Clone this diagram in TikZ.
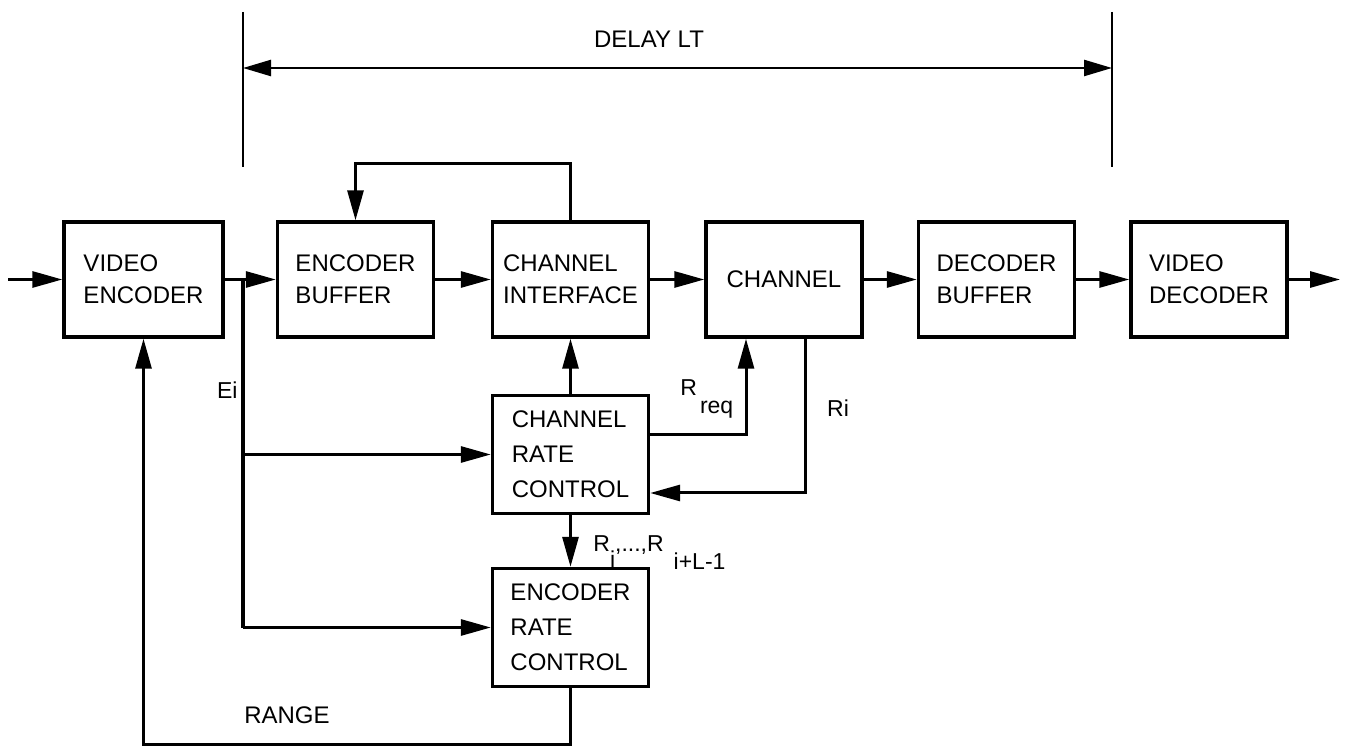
\documentclass[tikz,border=0pt]{standalone}
\usepackage{fontspec}
\setmainfont{Liberation Sans}
\usetikzlibrary{arrows.meta}
\tikzset{
  blk/.style={draw, line width=1.7pt, minimum width=78pt, minimum height=57.5pt,
    align=left, inner sep=0pt, font=\fontsize{12}{16}\selectfont},
  ctl/.style={blk, minimum height=59pt, font=\fontsize{12}{17.5}\selectfont},
  conn/.style={line width=1.5pt},
  arr/.style={conn, -{Triangle[length=15pt,width=8pt]}},
  thinline/.style={line width=1.2pt},
  lbl/.style={inner sep=0pt, font=\fontsize{11.5}{13}\selectfont},
  bigl/.style={inner sep=0pt, font=\fontsize{12}{14}\selectfont},
}
\begin{document}
\begin{tikzpicture}[x=0.5pt,y=-0.5pt]
\useasboundingbox (0,0) rectangle (1350,748);

% main chain
\node[blk, minimum width=79.5pt] (ve) at (143.5,279.5) {VIDEO\\ENCODER};
\node[blk] (eb) at (355.5,279.5) {ENCODER\\BUFFER};
\node[blk] (ci) at (570.5,279.5) {CHANNEL\\INTERFACE};
\node[blk] (ch) at (784,279.5) {CHANNEL};
\node[blk] (db) at (996.5,279.5) {DECODER\\BUFFER};
\node[blk] (vd) at (1209,279.5) {VIDEO\\DECODER};
\node[ctl] (crc) at (570.5,454.5) {CHANNEL\\RATE\\CONTROL};
\node[ctl] (erc) at (570.5,627.5) {ENCODER\\RATE\\CONTROL};

% free ends and bends
\coordinate (in) at (8,279.5);
\coordinate (out) at (1340,279.5);
\coordinate (j) at (243,279.5);
\coordinate (j1) at (243,454.5);
\coordinate (j2) at (243,627.5);
\coordinate (fb) at (355.5,164);
\coordinate (rq) at (746,435);
\coordinate (rr) at (805,493);
\coordinate (rg) at (143.5,744);
\coordinate (dl1) at (243,12);
\coordinate (dl2) at (243,167);
\coordinate (dr1) at (1112,12);
\coordinate (dr2) at (1112,167);
\coordinate (dla) at (243,68);
\coordinate (dra) at (1112,68);

% main flow
\draw[arr] (in) -- (ve.west);
\draw[arr] (ve.east) -- (eb.west);
\draw[arr] (eb.east) -- (ci.west);
\draw[arr] (ci.east) -- (ch.west);
\draw[arr] (ch.east) -- (db.west);
\draw[arr] (db.east) -- (vd.west);
\draw[arr] (vd.east) -- (out);

% Ei branch
\draw[conn, line width=1.8pt] (j) -- (j2);
\draw[arr] (j1) -- (crc.west);
\draw[arr] (j2) -- (erc.west);

% feedback on top
\draw[arr] (ci.north) |- (fb) -- (eb.north);

% rate controls
\draw[arr] (crc.north) -- (ci.south);
\draw[arr] (crc.south) -- (erc.north);
\draw[arr] (crc.east |- rq) -| (ch.south -| rq);
\draw[arr] (ch.south -| rr) |- (crc.east |- rr);
\draw[arr] (erc.south) |- (rg) -- (ve.south);

% delay
\draw[thinline] (dl1) -- (dl2);
\draw[thinline] (dr1) -- (dr2);
\draw[thinline, {Triangle[length=14pt,width=8pt]}-{Triangle[length=14pt,width=8pt]}] (dla) -- (dra);

% labels
\node[bigl] (delay) at (649,39) {DELAY LT};
\node[lbl, anchor=east] (ei) at (238,390) {Ei};
\node[lbl] (ri) at (838,408) {Ri};
\node[lbl, anchor=base west] (rreq) at (680,396) {R\hspace{1.5pt}\raisebox{-9pt}{req}};
\node[lbl, anchor=base west] (rset) at (593,552) {R\raisebox{-8pt}{i},...,R\hspace{5pt}\raisebox{-9pt}{i+L-1}};
\node[bigl] (range) at (287,715) {RANGE};
\end{tikzpicture}
\end{document}
